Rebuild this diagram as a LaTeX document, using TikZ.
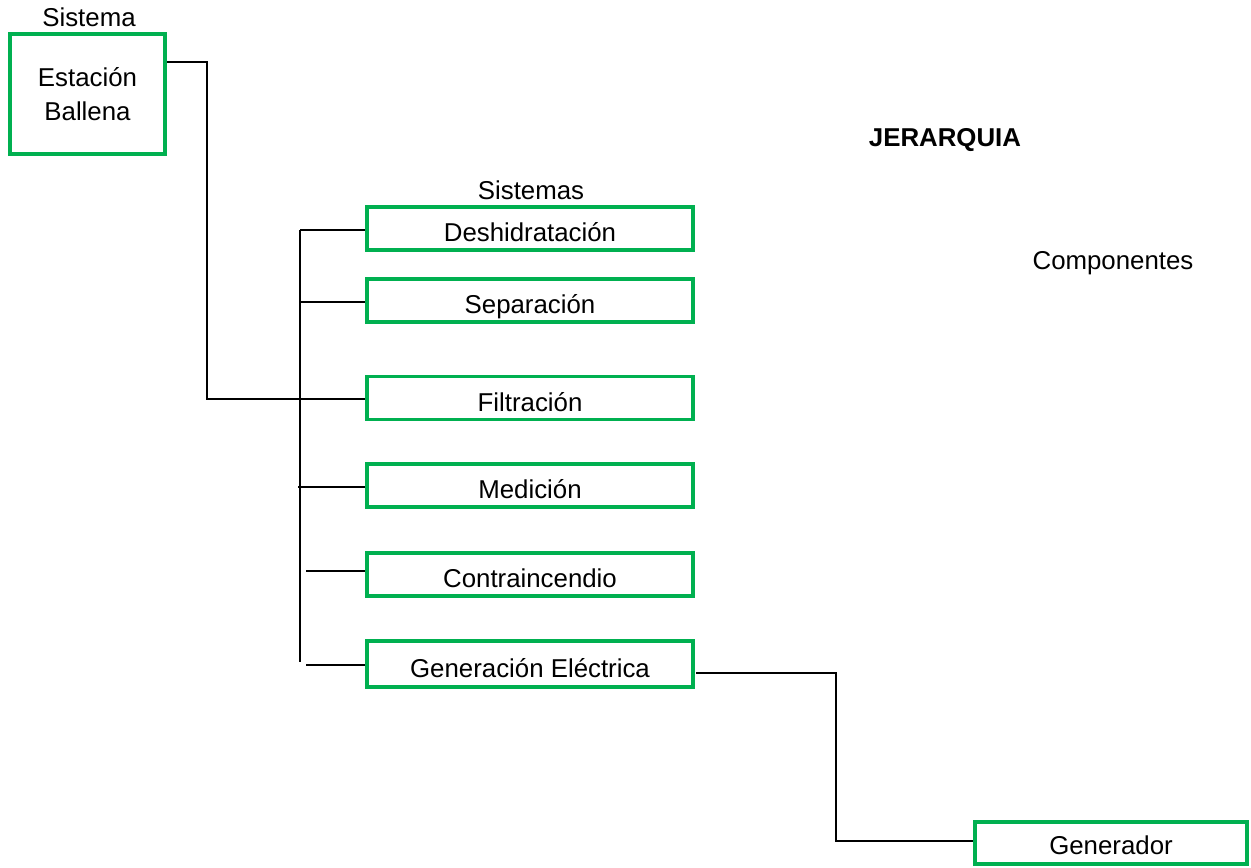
\documentclass[tikz,border=0pt]{standalone}
\usepackage{fontspec}
\setmainfont{Liberation Sans}
\definecolor{boxgreen}{HTML}{00B050}
\begin{document}
\begin{tikzpicture}[x=0.02cm,y=-0.02cm,
  box/.style={draw=boxgreen,line width=2pt,inner sep=0pt,font=\fontsize{14.7}{17.5}\selectfont},
  sysbox/.style={box,minimum width=326*0.02cm,minimum height=43*0.02cm,text height=15pt,text depth=0pt},
  lbl/.style={inner sep=0pt,font=\fontsize{14.7}{17.5}\selectfont},
  conn/.style={draw=black,line width=1.2pt}]
\useasboundingbox (0,0) rectangle (1251,867);
% nodes
\node[lbl] (sistema) at (89,17) {Sistema};
\node[box,minimum width=155*0.02cm,minimum height=120*0.02cm,align=center] (est) at (87.5,94) {Estación\\[2pt]Ballena};
\node[lbl] (sistemas) at (531,190) {Sistemas};
\node[lbl,font=\fontsize{14.7}{17.5}\selectfont\bfseries] (jer) at (945,140) {JERARQUIA};
\node[lbl] (comp) at (1113,263) {Componentes};
\node[sysbox] (des) at (530,228.5) {Deshidratación};
\node[sysbox] (sep) at (530,300.5) {Separación};
\node[sysbox] (fil) at (530,398) {Filtración};
\node[sysbox] (med) at (530,485.5) {Medición};
\node[sysbox] (con) at (530,574.5) {Contraincendio};
\node[sysbox,minimum height=46*0.02cm] (gen) at (530,664) {Generación Eléctrica};
\node[box,minimum width=272*0.02cm,minimum height=42*0.02cm,text height=12.7pt,text depth=0pt] (gdor) at (1111,843) {Generador};
% coordinates
\coordinate (estout) at (167,62);
\coordinate (bustop) at (300,230);
\coordinate (busbot) at (300,662);
\coordinate (genout) at (696,673);
% connectors
\draw[conn] (estout) -| (207,399) -- (fil.west |- 0,399);
\draw[conn] (bustop) -- (busbot);
\draw[conn] (bustop) -- (bustop -| des.west);
\draw[conn] (300,302) -- (sep.west |- 0,302);
\draw[conn] (298,487) -- (med.west |- 0,487);
\draw[conn] (306,571) -- (con.west |- 0,571);
\draw[conn] (306,665) -- (gen.west |- 0,665);
\draw[conn] (genout) -| (836,841) -- (gdor.west |- 0,841);
\end{tikzpicture}
\end{document}
